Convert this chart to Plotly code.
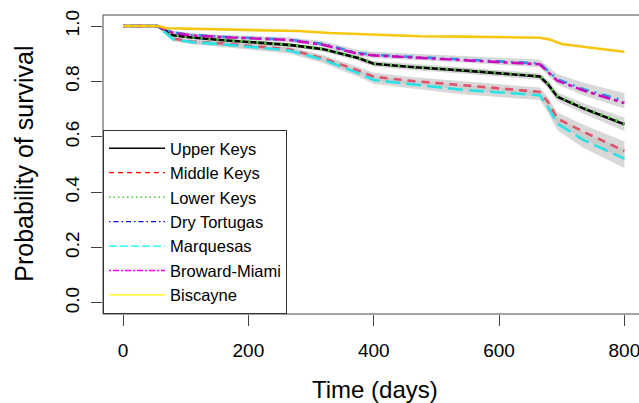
import plotly.graph_objects as go

# ---- data ----
times = [0, 55, 80, 110, 160, 215, 265, 320, 375, 400, 460, 540, 665, 678, 693, 735, 800]

upper_keys   = [1.0, 1.0, 0.967, 0.959, 0.949, 0.940, 0.932, 0.916, 0.885, 0.864, 0.852, 0.840, 0.818, 0.790, 0.745, 0.702, 0.645]
middle_keys  = [1.0, 1.0, 0.955, 0.944, 0.937, 0.927, 0.916, 0.883, 0.840, 0.817, 0.802, 0.787, 0.762, 0.726, 0.666, 0.618, 0.549]
lower_keys   = [1.0, 1.0, 0.968, 0.960, 0.950, 0.941, 0.933, 0.917, 0.886, 0.866, 0.853, 0.842, 0.820, 0.792, 0.748, 0.705, 0.648]
dry_tortugas = [1.0, 1.0, 0.977, 0.968, 0.961, 0.956, 0.951, 0.935, 0.903, 0.896, 0.889, 0.881, 0.865, 0.838, 0.808, 0.772, 0.730]
marquesas    = [1.0, 1.0, 0.952, 0.942, 0.934, 0.922, 0.912, 0.878, 0.830, 0.805, 0.789, 0.770, 0.750, 0.708, 0.648, 0.588, 0.521]
broward      = [1.0, 1.0, 0.975, 0.966, 0.960, 0.955, 0.950, 0.932, 0.900, 0.894, 0.887, 0.878, 0.862, 0.834, 0.803, 0.767, 0.722]

bisc_times = [0, 55, 70, 110, 160, 225, 280, 330, 410, 475, 540, 665, 680, 700, 750, 800]
biscayne   = [1.0, 1.0, 0.992, 0.990, 0.988, 0.985, 0.982, 0.975, 0.967, 0.963, 0.962, 0.958, 0.952, 0.935, 0.921, 0.907]

# confidence-band half widths read from the grey ribbons
ci_upper_keys = [0, 0, 0.006, 0.007, 0.007, 0.008, 0.008, 0.009, 0.010, 0.010, 0.011, 0.011, 0.012, 0.014, 0.016, 0.019, 0.024]
ci_middle     = [0, 0, 0.008, 0.008, 0.009, 0.010, 0.010, 0.012, 0.013, 0.014, 0.014, 0.015, 0.016, 0.018, 0.022, 0.026, 0.034]
ci_dry        = [0, 0, 0.006, 0.007, 0.007, 0.008, 0.009, 0.010, 0.011, 0.011, 0.012, 0.012, 0.014, 0.016, 0.019, 0.023, 0.028]
ci_marquesas  = [0, 0, 0.008, 0.008, 0.009, 0.010, 0.011, 0.012, 0.013, 0.014, 0.015, 0.016, 0.017, 0.020, 0.024, 0.028, 0.034]

names = ["Upper Keys", "Middle Keys", "Lower Keys", "Dry Tortugas", "Marquesas", "Broward-Miami", "Biscayne"]
x_ticks = [0, 200, 400, 600, 800]
y_ticks = [0.0, 0.2, 0.4, 0.6, 0.8, 1.0]
y_tick_labels = ["0.0", "0.2", "0.4", "0.6", "0.8", "1.0"]

# ---- styles ----
FONT = "Liberation Sans, Arial, sans-serif"
line_colors = ["#000000", "#DF536B", "#61D04F", "#2297E6", "#28E2E5", "#CD0BBC", "#F5C710"]
legend_colors = ["#000000", "#FF0000", "#00CD00", "#0000FF", "#00FFFF", "#FF00FF", "#FFFF00"]
line_dash = ["solid", "8px,6px", "2px,6px", "2px,6px,9px,6px", "15px,6px", "4px,4px,12px,4px", "solid"]
legend_dash = ["solid", "5px,4px", "1.5px,3px", "1.5px,3px,5px,3px", "8px,3px", "2px,2px,6px,2px", "solid"]

fig = go.Figure()

# grey confidence ribbons
for vals, hw in [(upper_keys, ci_upper_keys), (middle_keys, ci_middle),
                 (dry_tortugas, ci_dry), (marquesas, ci_marquesas)]:
    lo = [v - h for v, h in zip(vals, hw)]
    hi = [v + h for v, h in zip(vals, hw)]
    fig.add_trace(go.Scatter(x=times + times[::-1], y=hi + lo[::-1], fill="toself",
                             fillcolor="rgba(200,200,200,0.7)", line=dict(width=0),
                             mode="lines", showlegend=False, hoverinfo="skip"))

series = [(times, upper_keys), (times, middle_keys), (times, lower_keys), (times, dry_tortugas),
          (times, marquesas), (times, broward), (bisc_times, biscayne)]
draw_order = [0, 2, 1, 4, 3, 5, 6]
for i in draw_order:
    tx, vals = series[i]
    w = 3.0 if i == 2 else 2.6
    fig.add_trace(go.Scatter(x=tx, y=vals, mode="lines", showlegend=False,
                             line=dict(color=line_colors[i], width=w, dash=line_dash[i])))

# legend entries (drawn with the legend's own colours, as in the reference)
for i, nm in enumerate(names):
    fig.add_trace(go.Scatter(x=[None], y=[None], mode="lines", name=nm,
                             line=dict(color=legend_colors[i], width=1.3, dash=legend_dash[i])))

fig.update_layout(
    width=639, height=403,
    margin=dict(l=103, r=0, t=15, b=89),
    paper_bgcolor="white", plot_bgcolor="white",
    font=dict(family=FONT, color="black"),
    showlegend=True,
    legend=dict(x=0, y=0, xanchor="left", yanchor="bottom", bgcolor="white",
                bordercolor="#333", borderwidth=1, font=dict(size=16.5, family=FONT),
                tracegroupgap=0, itemwidth=56, entrywidth=136, entrywidthmode="pixels"),
    xaxis=dict(range=[-32, 823.3], tickmode="array", tickvals=x_ticks,
               ticks="outside", ticklen=11, tickcolor="#444", tickwidth=1,
               showgrid=False, zeroline=False, showline=False,
               ticklabeloverflow="allow",
               tickfont=dict(size=19, family=FONT), ticklabelstandoff=8),
    yaxis=dict(range=[-0.04, 1.04], tickmode="array", tickvals=y_ticks, ticktext=y_tick_labels,
               ticks="outside", ticklen=11, tickcolor="#444", tickwidth=1,
               showgrid=False, zeroline=False, showline=False, tickangle=-90,
               tickfont=dict(size=19, family=FONT), ticklabelstandoff=4),
    shapes=[dict(type="rect", xref="paper", yref="paper", x0=0, x1=1.05, y0=0, y1=1,
                 line=dict(color="#444", width=1), layer="above")],
    annotations=[
        dict(text="Time (days)", xref="paper", yref="paper", x=0.507, y=-0.254,
             xanchor="center", yanchor="middle", showarrow=False, font=dict(size=24, family=FONT)),
        dict(text="Probability of survival", xref="paper", yref="paper", x=-0.149, y=0.503,
             xanchor="center", yanchor="middle", textangle=-90, showarrow=False,
             font=dict(size=25, family=FONT)),
    ],
)

fig.write_html("out.html")
